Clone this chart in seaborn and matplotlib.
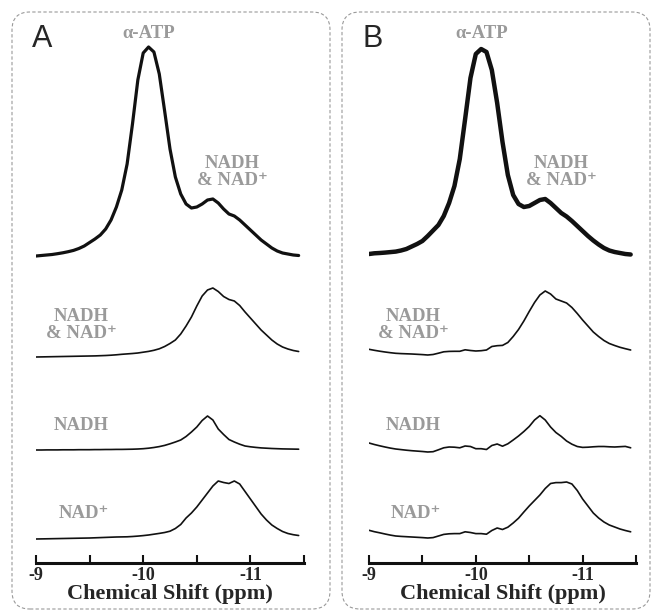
import numpy as np
import seaborn as sns
import matplotlib.pyplot as plt
from matplotlib.patches import FancyBboxPatch
from matplotlib.transforms import IdentityTransform

# chemical shift grid (ppm), -9.00 ... -11.45
ppm = np.linspace(-9.0, -11.45, 50)

# panel A (intensity, a.u., relative to each trace's baseline)
a_total = [0, 0.5, 1, 1.5, 2.3, 3.2, 4.3, 5.6, 7.5, 10, 13.5, 17, 21, 27, 36, 49, 66, 92, 132, 176,
           203, 209, 204, 182, 145, 107, 79, 62, 52, 48, 49, 52, 56, 57, 53, 47, 42, 40, 36, 31,
           26, 21, 16, 12, 8, 5, 3, 2, 1, 0.5]
a_mix = [0, 0.1, 0.2, 0.3, 0.4, 0.5, 0.6, 0.7, 0.8, 0.9, 1, 1.1, 1.3, 1.5, 1.8, 2.2, 2.7, 3.1, 3.5, 4,
         4.8, 5.6, 6.7, 8.2, 10.5, 13.5, 17, 23, 31, 40, 51, 61, 67, 69, 65.5, 60.5, 57.5, 56, 51.5, 45,
         39, 33, 27, 22, 17, 13, 10, 8, 6.5, 5.5]
a_nadh = [0, 0, 0.1, 0.1, 0.1, 0.2, 0.2, 0.2, 0.3, 0.3, 0.3, 0.4, 0.4, 0.5, 0.5, 0.6, 0.6, 0.7, 0.8, 1,
          1.3, 1.8, 2.5, 3.4, 4.6, 6.2, 8, 10, 13.5, 18, 23, 29.5, 34, 30, 21, 15.5, 10.5, 8, 5.8, 4,
          3.2, 2.6, 2.1, 1.8, 1.5, 1.3, 1.1, 1, 0.9, 0.8]
a_nad = [0, 0.1, 0.2, 0.3, 0.4, 0.5, 0.6, 0.7, 0.8, 0.9, 1.0, 1.2, 1.4, 1.6, 1.8, 2.0, 2.1, 2.2, 2.5, 2.9,
         3.4, 4, 4.8, 5.6, 6.5, 7.8, 10.5, 14.5, 21, 26, 32, 39, 46, 53, 58, 56.5, 55.5, 58, 55, 47.5,
         40, 32.5, 25, 19, 14, 10.5, 7.5, 5.5, 4.3, 3.5]

# panel B
b_total = [0, 0.7, 1, 1.4, 1.9, 2.4, 3.5, 5, 7.5, 10, 13, 18, 23.5, 29, 38, 51, 68, 95, 135, 176,
           200, 205, 202, 184, 151, 112, 79, 59, 50, 47, 48, 51, 54, 55, 51, 46, 41, 37.5, 33, 28,
           23, 18, 13.5, 9.5, 6, 3.5, 2, 1, 0, -0.5]
b_mix = [5.7, 4.7, 3.8, 3, 2.3, 1.7, 1.4, 1.2, 1, 0.7, 0.4, 0, 0.5, 1.8, 3.2, 3.6, 3.7, 3.7, 5.2, 4.5,
         4, 4.3, 5, 8.5, 9.3, 9.6, 12.5, 18.5, 25.5, 34, 43.5, 52.5, 60, 64, 61, 56, 54, 52, 47.5, 41.5,
         35, 29, 23, 18.5, 14.5, 11.5, 9.5, 7.7, 6.3, 5]
b_nadh = [9, 7.5, 6.2, 5, 3.9, 3, 2.4, 1.8, 1.3, 0.9, 0.5, 0, 0.3, 2.2, 4.2, 5, 4.8, 4.2, 6, 5.5,
          3.3, 3.3, 2.5, 6.5, 8, 5.8, 8.2, 12, 16, 20.5, 25.5, 32, 36.3, 32, 25, 19.5, 15.6, 11, 7.8, 5.5,
          4.6, 4.8, 5.2, 5.5, 5.5, 5.2, 5, 5.3, 5.6, 4.2]
b_nad = [7.7, 6.3, 5.2, 4, 2.9, 2, 1.6, 1.3, 1, 0.7, 0.4, 0, 0.4, 2, 3.6, 4.2, 4.4, 4.4, 6.2, 5.5,
         4.4, 4.4, 3.8, 7.5, 10, 8.5, 10.8, 15, 19.8, 26, 32, 37.5, 43, 49.5, 54.5, 55.4, 55.4, 56, 54, 47.5,
         39, 32, 25, 20, 16, 13, 11, 9, 7.5, 6.2]

tick_pos = [-9, -9.5, -10, -10.5, -11, -11.5]
tick_lab = ['-9', '', '-10', '', '-11', '']

sns.set_style('white')
plt.rcParams['font.family'] = ['Liberation Serif', 'DejaVu Serif']
plt.rcParams['axes.unicode_minus'] = False

W, H = 653, 613
GRAY = '#9a9a9a'
fig = plt.figure(figsize=(W / 100, H / 100), dpi=100)

# dashed rounded panel frames
for x0, x1 in [(12, 330), (342, 650)]:
    box = FancyBboxPatch((x0, 4), x1 - x0, 597, boxstyle='round,pad=0,rounding_size=18',
                         transform=IdentityTransform(), fill=False, ec=GRAY, lw=0.8,
                         ls=(0, (3, 2)))
    fig.add_artist(box)

panels = [
    (36, 268, [(a_total, 307, 2.3), (a_mix, 206, 1.2), (a_nadh, 113, 1.2), (a_nad, 24, 1.2)]),
    (369, 267, [(b_total, 309, 3.2), (b_mix, 208, 1.2), (b_nadh, 111, 1.2), (b_nad, 25, 1.2)]),
]

for left, width, traces in panels:
    ax = fig.add_axes([left / W, 50 / H, width / W, 533 / H])
    for vals, off, lw in traces:
        sns.lineplot(x=ppm, y=np.array(vals) + off, ax=ax, color='#111111', lw=lw,
                     sort=False, estimator=None, solid_joinstyle='round',
                     solid_capstyle='round')
    ax.set_xlim(-9, -11.5)
    ax.set_ylim(0, 533)
    ax.set_yticks([])
    ax.set_ylabel('')
    sns.despine(ax=ax, left=True)
    ax.spines['bottom'].set_linewidth(2.2)
    ax.spines['bottom'].set_color('#111111')
    ax.set_xticks(tick_pos)
    ax.set_xticklabels(tick_lab, fontsize=13, fontweight='bold')
    ax.tick_params(axis='x', bottom=True, direction='in', length=6, width=1.5, pad=3,
                   color='#111111')
    ax.set_xlabel('Chemical Shift (ppm)', fontsize=16, fontweight='bold', labelpad=0)


def label(x, y, s, **kw):
    fig.text(x / W, 1 - y / H, s, ha='center', va='center', color=GRAY,
             fontsize=13.5, fontweight='bold', linespacing=1.05, **kw)


mix_txt = 'NADH\n& NAD\u207a'
for dx in (0, 333):
    label(149 + dx, 34, '\u03b1-ATP')
label(232, 172, mix_txt)
label(561, 172, mix_txt)
for cx in (81, 413):
    label(cx, 325, mix_txt)
    label(cx, 426, 'NADH')
    label(cx + 3, 514, 'NAD\u207a')

fig.text(42 / W, 1 - 39 / H, 'A', ha='center', va='center', fontsize=22,
         family=['Liberation Sans', 'DejaVu Sans'])
fig.text(373 / W, 1 - 39 / H, 'B', ha='center', va='center', fontsize=22,
         family=['Liberation Sans', 'DejaVu Sans'])

fig.savefig('out.png', dpi=100)
